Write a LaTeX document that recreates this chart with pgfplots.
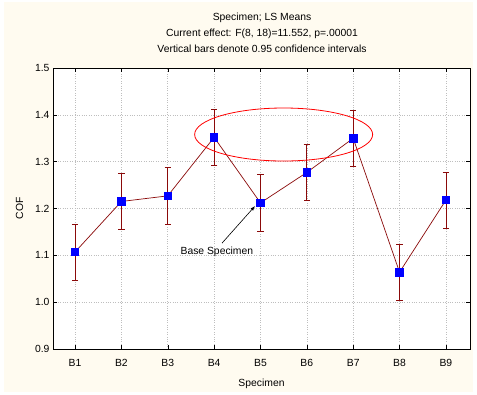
\documentclass[border=0pt]{standalone}
\usepackage{pgfplots}
\pgfplotsset{compat=1.18}
\usepackage{fontspec}
\setmainfont{Liberation Sans}
\definecolor{cream}{RGB}{255,251,240}
\definecolor{dred}{RGB}{139,10,10}
\definecolor{gridc}{RGB}{190,190,190}
\newcommand{\fnt}{\fontsize{10.4}{12}\selectfont}
\begin{document}
\begin{tikzpicture}[x=1bp,y=1bp]
\fill[white] (0,0) rectangle (477,394);
\fill[cream] (4,2) rectangle (473,392);
\node[font=\fnt] at (262,376) {Specimen; LS Means};
\node[font=\fnt] at (262,360) {Current effect: F(8, 18)=11.552, p=.00001};
\node[font=\fnt] at (262,345) {Vertical bars denote 0.95 confidence intervals};
\begin{axis}[
  at={(53bp,45bp)}, anchor=south west,
  scale only axis, width=417bp, height=281bp,
  xmin=-0.475, xmax=8.52, ymin=0.9, ymax=1.5,
  xtick={0,...,8},
  xticklabels={B1,B2,B3,B4,B5,B6,B7,B8,B9},
  ytick={0.9,1.0,1.1,1.2,1.3,1.4,1.5},
  yticklabel style={/pgf/number format/.cd,fixed,fixed zerofill,precision=1},
  /pgf/number format/assume math mode=true,
  tick label style={font=\fnt},
  label style={font=\fnt},
  xticklabel style={yshift=-7bp},
  xlabel={Specimen}, ylabel={COF},
  xlabel style={yshift=-5bp},
  ylabel style={yshift=5bp},
  tick align=inside, tick pos=both,
  major tick length=4bp,
  grid=major,
  major grid style={gridc, dotted, line width=0.6bp},
  axis line style={black, line width=0.9bp},
  tick style={black, line width=0.4bp},
  axis background/.style={fill=white},
  clip=false,
]
\addplot[dred, line width=0.7bp, mark=square*, mark size=3.7bp,
  mark options={fill=blue, draw=blue, solid},
  error bars/.cd, y dir=both, y explicit,
  error bar style={dred, line width=0.8bp},
  error mark options={dred, mark size=3.2bp, line width=0.7bp, rotate=90}]
  coordinates {
  (0,1.107) +- (0,0.060)
  (1,1.215) +- (0,0.060)
  (2,1.227) +- (0,0.060)
  (3,1.352) +- (0,0.060)
  (4,1.212) +- (0,0.060)
  (5,1.277) +- (0,0.060)
  (6,1.350) +- (0,0.060)
  (7,1.064) +- (0,0.060)
  (8,1.218) +- (0,0.060)
  };
\draw[red, line width=0.8bp] (axis cs:4.5,1.358) ellipse [x radius=89bp, y radius=26.5bp];
\draw[-latex, black, line width=0.6bp] (axis cs:3.17,1.126) -- (axis cs:3.88,1.205);
\node[font=\fnt] at (axis cs:3.06,1.107) {Base Specimen};
\end{axis}
\end{tikzpicture}
\end{document}
